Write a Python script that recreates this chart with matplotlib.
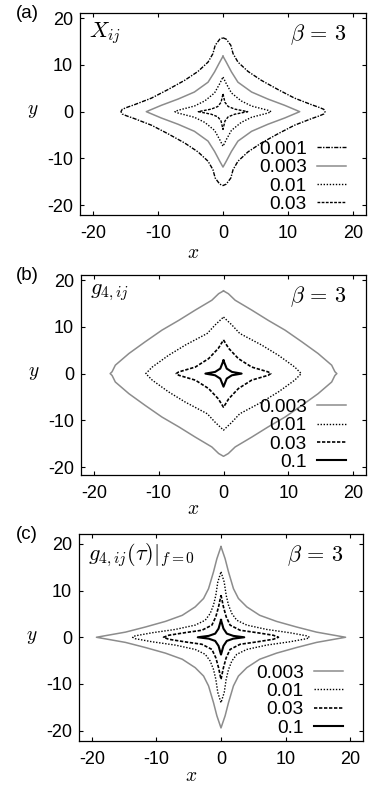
import numpy as np
import matplotlib
matplotlib.use("Agg")
import matplotlib.pyplot as plt

plt.rcParams['font.family'] = ['Liberation Sans', 'DejaVu Sans']
plt.rcParams['mathtext.fontset'] = 'cm'
plt.rcParams['axes.unicode_minus'] = False

# first-quadrant contour points, from the tip on the
# y axis to the tip on the x axis; the other quadrants are mirrored
levels_a = ['0.001', '0.003', '0.01', '0.03']
xs_a = [[0, 0.5, 1.2, 1.55, 2.3, 3.85, 5.9, 8.5, 11.0, 13.6, 14.9, 15.5, 15.7],
        [0, 0.5, 1.3, 2.3, 4.4, 6.9, 9.5, 11.8],
        [0, 0.5, 1.3, 2.8, 4.4, 6.9, 7.4],
        [0, 0.3, 0.8, 1.8, 3.8]]
ys_a = [[15.8, 15.5, 14.2, 12.4, 10.6, 8.6, 6.7, 4.7, 2.9, 1.5, 0.86, 0.5, 0],
        [11.85, 10.6, 8.5, 6.3, 4.2, 2.7, 1.35, 0],
        [7.4, 6.0, 4.0, 2.3, 1.2, 0.3, 0],
        [3.8, 2.0, 1.1, 0.55, 0]]

levels_b = ['0.003', '0.01', '0.03', '0.1']
xs_b = [[0, 0.75, 1.8, 4.35, 6.9, 9.5, 12.1, 14.6, 16.7, 17.2, 17.5],
        [0, 1.3, 2.5, 5.9, 8.5, 11.0, 12.0],
        [0, 0.8, 2.3, 4.35, 6.9, 7.3],
        [0, 0.5, 1.3, 2.8]]
ys_b = [[17.7, 17.1, 15.7, 13.6, 11.4, 9.3, 6.8, 4.3, 1.8, 0.4, 0],
        [12.1, 10.4, 8.6, 6.1, 3.9, 1.4, 0],
        [7.2, 5.4, 3.2, 1.4, 0.36, 0],
        [2.8, 1.07, 0.36, 0]]

levels_c = ['0.003', '0.01', '0.03', '0.1']
xs_c = [[0, 0.64, 1.16, 1.93, 2.7, 4.0, 6.0, 8.6, 11.7, 14.8, 19.3],
        [0, 0.5, 0.8, 1.16, 1.67, 2.44, 4.0, 7.1, 10.7, 13.3, 13.7],
        [0, 0.38, 0.8, 1.41, 2.96, 5.5, 8.1, 8.9],
        [0, 0.38, 0.9, 1.9, 3.6]]
ys_c = [[19.4, 16.8, 14.0, 10.4, 8.3, 6.5, 4.7, 3.4, 2.2, 1.1, 0],
        [14.0, 11.8, 9.0, 6.9, 5.1, 3.65, 2.6, 1.67, 0.96, 0.3, 0],
        [9.0, 6.5, 4.4, 2.6, 1.5, 1.0, 0.43, 0],
        [3.7, 1.85, 0.78, 0.3, 0]]

GRAY = '#8c8c8c'
style_a = [dict(color='k', ls=(0, (3, 1, 1, 1)), lw=1.0),
           dict(color=GRAY, ls='-', lw=1.1),
           dict(color='k', ls=(0, (1, 1.2)), lw=1.0),
           dict(color='k', ls=(0, (2, 1)), lw=1.0)]
style_bc = [dict(color=GRAY, ls='-', lw=1.1),
            dict(color='k', ls=(0, (1, 1.2)), lw=1.0),
            dict(color='k', ls=(0, (2, 1)), lw=1.2),
            dict(color='k', ls='-', lw=1.5)]


def mirror(xq, yq):
    xq = np.asarray(xq, float)
    yq = np.asarray(yq, float)
    x = np.concatenate([xq, xq[::-1], -xq, -xq[::-1]])
    y = np.concatenate([yq, -yq[::-1], -yq, yq[::-1]])
    return x, y


def panel(ax, levels, xs, ys, styles, title, tag, ylim, xlab_y, leg_y):
    for lev, xq, yq, st in zip(levels, xs, ys, styles):
        x, y = mirror(xq, yq)
        ax.plot(x, y, label=lev, **st)
    ax.set_xlim(-22, 22)
    ax.set_ylim(*ylim)
    ax.set_xticks([-20, -10, 0, 10, 20])
    ax.set_yticks([-20, -10, 0, 10, 20])
    ax.tick_params(direction='in', top=True, right=True, length=3,
                   width=0.8, labelsize=13, pad=5)
    ax.tick_params(axis='x', pad=7)
    for sp in ax.spines.values():
        sp.set_linewidth(0.9)
    ax.legend(loc='lower right', bbox_to_anchor=(0.93, leg_y), frameon=False,
              markerfirst=False, handlelength=1.5, handletextpad=0.55,
              fontsize=13.8, labelspacing=0.05, borderaxespad=0, borderpad=0)
    ax.text(0.03, 0.965, title, transform=ax.transAxes, ha='left', va='top',
            fontsize=16)
    ax.text(0.93, 0.955, r'$\beta\,=\,3$', transform=ax.transAxes, ha='right',
            va='top', fontsize=16)
    ax.text(0.395, xlab_y, r'$x$', transform=ax.transAxes, ha='center',
            va='center', fontsize=14)
    ax.text(-0.165, 0, r'$y$', transform=ax.get_yaxis_transform(),
            ha='center', va='center', fontsize=14)
    fig.text(27 / 382, ax.get_position().y1 - 0.0005, tag,
             ha='center', va='center', fontsize=13.5)


fig = plt.figure(figsize=(3.82, 7.85), dpi=100)
W, H = 382, 785
ax_a = fig.add_axes([80 / W, (H - 215) / H, 286 / W, 202 / H])
ax_b = fig.add_axes([81 / W, (H - 475) / H, 285 / W, 200 / H])
ax_c = fig.add_axes([79 / W, (H - 741) / H, 284 / W, 207 / H])

panel(ax_a, levels_a, xs_a, ys_a, style_a, r'$X_{ij}$', '(a)',
      (-22.1, 21.1), -0.19, 0.01)
panel(ax_b, levels_b, xs_b, ys_b, style_bc, r'$g_{4,ij}$', '(b)',
      (-21.7, 21.1), -0.175, 0.02)
panel(ax_c, levels_c, xs_c, ys_c, style_bc,
      r'$g_{4,ij}(\tau)|_{f=0}$', '(c)', (-22.2, 22.1), -0.17, 0.02)

fig.savefig('out.png', dpi=100)
